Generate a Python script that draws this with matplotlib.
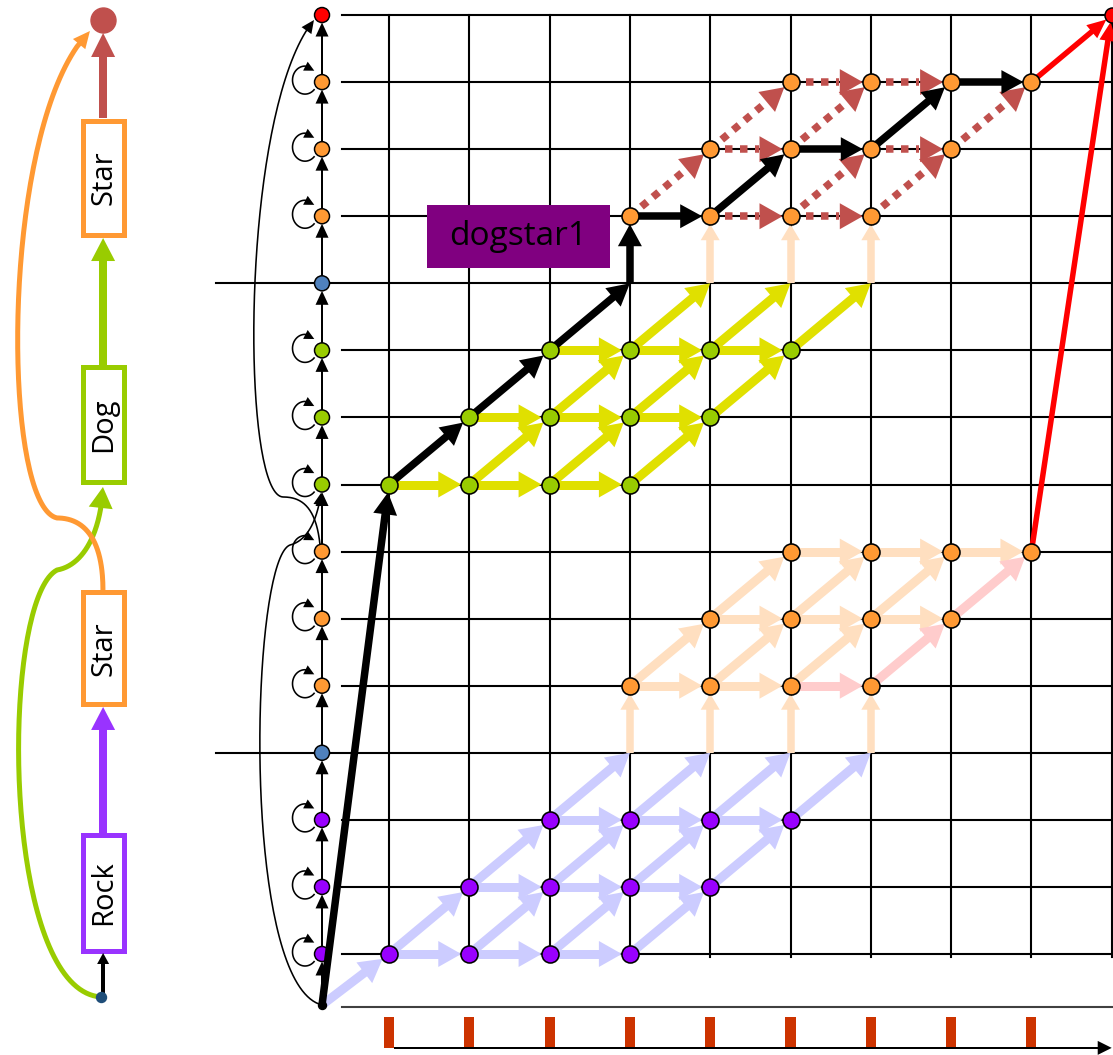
import numpy as np
import matplotlib
matplotlib.use("Agg")
import matplotlib.pyplot as plt
from matplotlib.patches import Polygon, Rectangle

# ---------------- data ----------------
words = ["Rock", "Star", "Dog", "Star"]
word_colors = ["#9933FF", "#FF9933", "#99CC00", "#FF9933"]
state_kinds = ["rock", "rock", "rock", "gap", "star", "star", "star",
               "dog", "dog", "dog", "gap", "star", "star", "star", "end"]  # rows 1..15
frames = [1, 2, 3, 4, 5, 6, 7, 8, 9]
grid_cols = [1, 2, 3, 4, 5, 6, 7, 8, 9, 10]
grid_rows = list(range(1, 16))
long_rows = [4, 11]
label_text = "dogstar1"

rock_rows = {1: [1, 2, 3, 4], 2: [2, 3, 4, 5], 3: [3, 4, 5, 6]}
star1_rows = {5: [4, 5, 6, 7], 6: [5, 6, 7, 8], 7: [6, 7, 8, 9]}
dog_rows = {8: [1, 2, 3, 4], 9: [2, 3, 4, 5], 10: [3, 4, 5, 6]}
star2_rows = {12: [4, 5, 6, 7], 13: [5, 6, 7, 8], 14: [6, 7, 8, 9]}
end_node = (10, 15)

S = "start"
lavender_edges = [
    (S, (1, 1)),
    ((1, 1), (2, 1)), ((2, 1), (3, 1)), ((3, 1), (4, 1)),
    ((2, 2), (3, 2)), ((3, 2), (4, 2)), ((4, 2), (5, 2)),
    ((3, 3), (4, 3)), ((4, 3), (5, 3)), ((5, 3), (6, 3)),
    ((1, 1), (2, 2)), ((2, 1), (3, 2)), ((3, 1), (4, 2)), ((4, 1), (5, 2)),
    ((2, 2), (3, 3)), ((3, 2), (4, 3)), ((4, 2), (5, 3)), ((5, 2), (6, 3)),
    ((3, 3), (4, 4)), ((4, 3), (5, 4)), ((5, 3), (6, 4)), ((6, 3), (7, 4)),
]
peach_up_edges = [((4, 4), (4, 5)), ((5, 4), (5, 5)), ((6, 4), (6, 5)), ((7, 4), (7, 5)),
                  ((5, 11), (5, 12)), ((6, 11), (6, 12)), ((7, 11), (7, 12))]
peach_edges = [
    ((4, 5), (5, 5)), ((5, 5), (6, 5)),
    ((5, 6), (6, 6)), ((6, 6), (7, 6)), ((7, 6), (8, 6)),
    ((6, 7), (7, 7)), ((7, 7), (8, 7)), ((8, 7), (9, 7)),
    ((4, 5), (5, 6)), ((5, 5), (6, 6)), ((6, 5), (7, 6)),
    ((5, 6), (6, 7)), ((6, 6), (7, 7)), ((7, 6), (8, 7)),
]
pink_edges = [((6, 5), (7, 5)), ((7, 5), (8, 6)), ((8, 6), (9, 7))]
yellow_edges = [
    ((1, 8), (2, 8)), ((2, 8), (3, 8)), ((3, 8), (4, 8)),
    ((2, 9), (3, 9)), ((3, 9), (4, 9)), ((4, 9), (5, 9)),
    ((3, 10), (4, 10)), ((4, 10), (5, 10)), ((5, 10), (6, 10)),
    ((2, 8), (3, 9)), ((3, 8), (4, 9)), ((4, 8), (5, 9)),
    ((3, 9), (4, 10)), ((4, 9), (5, 10)), ((5, 9), (6, 10)),
    ((4, 10), (5, 11)), ((5, 10), (6, 11)), ((6, 10), (7, 11)),
]
dotted_edges = [
    ((5, 12), (6, 12)), ((6, 12), (7, 12)), ((5, 13), (6, 13)), ((7, 13), (8, 13)),
    ((6, 14), (7, 14)), ((7, 14), (8, 14)),
    ((4, 12), (5, 13)), ((6, 12), (7, 13)), ((7, 12), (8, 13)),
    ((5, 13), (6, 14)), ((6, 13), (7, 14)), ((8, 13), (9, 14)),
]
best_path = [S, (1, 8), (2, 9), (3, 10), (4, 11), (4, 12), (5, 12), (6, 13), (7, 13), (8, 14), (9, 14)]
red_edges = [((9, 7), (10, 15)), ((9, 14), (10, 15))]

# ---------------- layout / style ----------------
PT = 72 / 100.0
STATE_X = 0.166
START_Y = 0.24
LX = -2.56
XMIN, XMAX, YMIN, YMAX = -3.844, 10.016, -0.506, 15.224
kind_color = {"rock": "#9900FF", "star": "#FF9933", "dog": "#99CC00", "gap": "#4F81BD", "end": "#FF0000"}

fig = plt.figure(figsize=(11.13, 10.55), dpi=100)
ax = fig.add_axes([0, 0, 1, 1])
ax.set_xlim(XMIN, XMAX)
ax.set_ylim(YMIN, YMAX)
ax.axis("off")
T = ax.transData
INV = T.inverted()


def px(p):
    return T.transform(np.atleast_2d(np.asarray(p, float)))


def dt(q):
    return INV.transform(np.atleast_2d(np.asarray(q, float)))


def head_poly(tip, u, hl, hw, color, z):
    n = np.array([-u[1], u[0]])
    base = tip - u * hl
    poly = dt(np.array([tip, base + n * hw / 2, base - n * hw / 2]))
    ax.add_patch(Polygon(poly, closed=True, fc=color, ec="none", zorder=z))
    return base


def arrow(p0, p1, color, lw, hl, hw, sA=0, sB=0, ls="-", z=2):
    a, b = px(p0)[0], px(p1)[0]
    d = b - a
    u = d / np.hypot(*d)
    a2 = a + u * sA
    tip = b - u * sB
    base = head_poly(tip, u, hl, hw, color, z)
    end = base + u * (1.0 if ls == "-" else -1.0)
    seg = dt(np.array([a2, end]))
    ax.plot(seg[:, 0], seg[:, 1], color=color, lw=lw * PT, ls=ls,
            solid_capstyle="butt", dash_capstyle="butt", zorder=z)


def poly_arrow(pts_px, color, lw, hl, hw, z):
    tip = pts_px[-1]
    dists = np.hypot(*(pts_px - tip).T)
    k = np.where(dists >= hl)[0][-1]
    u = tip - pts_px[k]
    u = u / np.hypot(*u)
    base = head_poly(tip, u, hl, hw, color, z)
    line = np.vstack([pts_px[:k + 1], base + u * 1.0])
    seg = dt(line)
    ax.plot(seg[:, 0], seg[:, 1], color=color, lw=lw * PT, solid_capstyle="butt", zorder=z)


def bezier(P, n=80):
    P = np.asarray(P, float)
    t = np.linspace(0, 1, n)[:, None]
    return ((1 - t) ** 3 * P[0] + 3 * (1 - t) ** 2 * t * P[1]
            + 3 * (1 - t) * t ** 2 * P[2] + t ** 3 * P[3])


def chain(segs):
    return px(np.vstack([bezier(s) for s in segs]))


node_set = set()
for rows in (rock_rows, star1_rows, dog_rows, star2_rows):
    for r, cs in rows.items():
        for c in cs:
            node_set.add((c, r))


def pos(p):
    return (STATE_X, START_Y) if p == S else p


def shrink(p):
    if p == S:
        return 4
    if p == end_node:
        return 7
    return 8 if p in node_set else 0


# ---------------- grid ----------------
for r in grid_rows:
    x0 = -1.154 if r in long_rows else 0.415
    ax.plot([x0, XMAX], [r, r], color="black", lw=1.5, zorder=1)
for c in grid_cols:
    ax.plot([c, c], [0.955, 15], color="black", lw=1.5, zorder=1)
ax.plot([0.415, 10.0], [0.21, 0.21], color="#404040", lw=1.5, zorder=1)

# bottom frame axis
ax.bar(frames, 0.462, bottom=-0.40, width=0.125, color="#CC3300", zorder=2)
arrow((1.06, -0.40), (10.0, -0.40), "black", 2, 14, 14, z=3)

# ---------------- trellis arrows ----------------
def draw_edges(edges, color, lw, hl, hw, ls="-", z=2):
    for a, b in edges:
        arrow(pos(a), pos(b), color, lw, hl, hw, sA=0, sB=shrink(b), ls=ls, z=z)


draw_edges(lavender_edges, "#CCCCFF", 9, 23, 26)
draw_edges(peach_up_edges, "#FFDFC0", 7.5, 16, 19)
draw_edges(peach_edges, "#FFDFC0", 9, 23, 26)
draw_edges(pink_edges, "#FFCCCC", 9, 23, 26, z=2.1)
draw_edges(yellow_edges, "#E0E000", 9, 23, 26)
draw_edges(dotted_edges, "#C0504D", 7.5, 23, 26, ls=(0, (1, 1)), z=3)
draw_edges(list(zip(best_path[:-1], best_path[1:])), "black", 7.5, 22, 24, z=4)
draw_edges(red_edges, "#FF0000", 5.5, 19, 17, z=4)

# ---------------- nodes ----------------
for rows, kind in ((rock_rows, "rock"), (star1_rows, "star"), (dog_rows, "dog"), (star2_rows, "star")):
    xs = [c for r, cs in rows.items() for c in cs]
    ys = [r for r, cs in rows.items() for c in cs]
    ax.scatter(xs, ys, s=(17 * PT) ** 2, c=kind_color[kind], edgecolors="black",
               linewidths=1.6 * PT, zorder=6)
ax.scatter([end_node[0]], [end_node[1]], s=(15 * PT) ** 2, c="#FF0000",
           edgecolors="black", linewidths=1.5 * PT, zorder=6)

# ---------------- state column ----------------
rows_all = list(range(1, len(state_kinds) + 1))
prev = (STATE_X, START_Y)
prev_s = 4
for r in rows_all:
    arrow(prev, (STATE_X, r), "black", 2, 14, 13, sA=prev_s, sB=7.5, z=3)
    prev, prev_s = (STATE_X, r), 7.5
ax.scatter([STATE_X] * len(rows_all), rows_all, s=(15 * PT) ** 2,
           c=[kind_color[k] for k in state_kinds], edgecolors="black",
           linewidths=1.5 * PT, zorder=3.5)
ax.scatter([STATE_X], [START_Y], s=(8 * PT) ** 2, c="black", zorder=3.5)

for r, kind in zip(rows_all, state_kinds):
    if kind in ("rock", "star", "dog"):
        c = px((STATE_X, r))[0] + np.array([-17.0, 2.0])
        th = np.radians(np.linspace(-40, -318, 90))
        pts = c + np.c_[12.5 * np.cos(th), 14 * np.sin(th)]
        poly_arrow(pts, "black", 1.6, 10, 10, z=3)

# long transitions beside the state column
curve_start_to_dog = [
    [(0.166, 0.240), (-0.856, 0.538), (-0.731, 6.875), (-0.233, 7.098)],
    [(-0.233, 7.098), (0.016, 7.173), (0.116, 7.546), (0.153, 7.873)],
]
curve_star_to_end = [
    [(0.141, 7.098), (0.091, 7.695), (-0.108, 7.814), (-0.320, 7.814)],
    [(-0.320, 7.814), (-0.856, 7.844), (-0.856, 13.584), (0.066, 14.926)],
]
poly_arrow(chain(curve_start_to_dog), "black", 1.6, 12, 11, z=3)
poly_arrow(chain(curve_star_to_end), "black", 1.6, 13, 12, z=3)

# ---------------- left word diagram ----------------
box_spans = [(1.052, 2.767), (4.720, 6.390), (8.030, 9.745), (11.713, 13.427)]
half_w = 0.255
for (y0, y1), w, col in zip(box_spans, words, word_colors):
    ax.add_patch(Rectangle((LX - half_w, y0), 2 * half_w, y1 - y0, fc="white", ec=col,
                           lw=5 * PT, zorder=4))
    ax.text(LX + 0.01, (y0 + y1) / 2, w, rotation=90, ha="center", va="center",
            fontsize=21, family="Open Sans", color="black", zorder=5)

green_curve = [
    [(-2.587, 0.359), (-3.844, 0.463), (-3.844, 6.278), (-3.134, 6.725)],
    [(-3.134, 6.725), (-2.786, 6.800), (-2.587, 7.322), (-2.562, 7.963)],
]
orange_curve = [
    [(-2.562, 6.427), (-2.562, 7.173), (-2.786, 7.501), (-3.134, 7.501)],
    [(-3.134, 7.501), (-3.844, 7.694), (-3.844, 13.435), (-2.724, 14.762)],
]
poly_arrow(chain(green_curve), "#99CC00", 5, 21, 24, z=3)
poly_arrow(chain(orange_curve), "#FF9933", 5, 17, 16, z=3)

arrow((LX, 0.359), (LX, 1.015), "black", 4, 11, 12, sA=4, z=4)
arrow((LX, 2.804), (LX, 4.683), "#9933FF", 8, 23, 24, z=4)
arrow((LX, 9.782), (LX, 11.675), "#99CC00", 8, 23, 24, z=4)
arrow((LX, 13.465), (LX, 14.732), "#C0504D", 8, 24, 24, z=4)
ax.scatter([LX], [14.93], s=(25 * PT) ** 2, c="#C0504D", zorder=5)
ax.scatter([LX - 0.025], [0.359], s=(10 * PT) ** 2, c="#1F4E79", zorder=5)

# ---------------- label ----------------
ax.add_patch(Rectangle((1.473, 11.228), 2.279, 0.94, fc="#800080", ec="none", zorder=5))
ax.text(2.61, 11.70, label_text, ha="center", va="center", fontsize=24,
        family="Open Sans", color="black", zorder=6)

fig.savefig("out.png", dpi=100)
